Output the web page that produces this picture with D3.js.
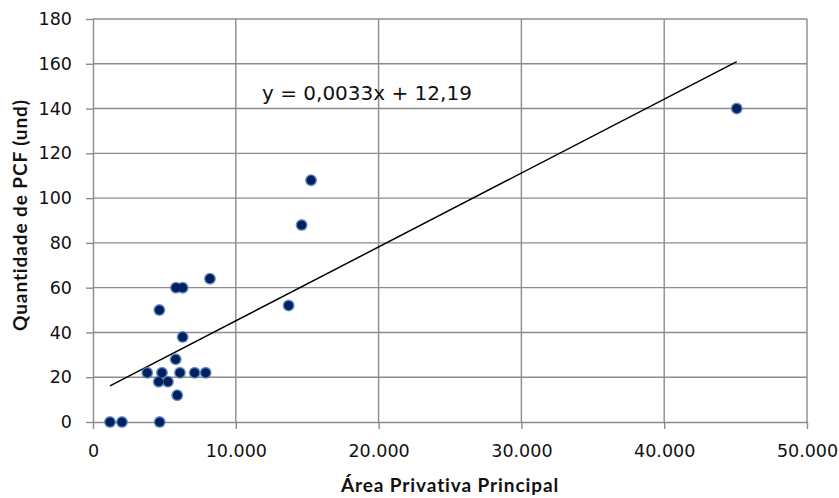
<!DOCTYPE html>
<html>
<head>
<meta charset="utf-8">
<script src="https://cdn.jsdelivr.net/npm/d3@7"></script>
<style>
  html, body { margin: 0; padding: 0; background: #fff; }
  svg { display: block; }
</style>
</head>
<body>
<svg id="chart" width="839" height="498"></svg>
<script>
// Área privativa principal (m²) vs. quantidade de PCF (und)
const areaValues = [1190, 2030, 4670, 5900, 4600, 5250, 3800, 4830, 6090, 7120, 7890,
                    5790, 6280, 4650, 5810, 6280, 8190, 13700, 14610, 15270, 45080];
const pcfValues  = [0, 0, 0, 12, 18, 18, 22, 22, 22, 22, 22,
                    28, 38, 50, 60, 60, 64, 52, 88, 108, 140];

// Linear trend line: y = slope * x + intercept
const trendSlope = 0.0033;
const trendIntercept = 12.19;
const trendLabel = "y = 0,0033x + 12,19";

const xTicks = [0, 10000, 20000, 30000, 40000, 50000];
const yTicks = [0, 20, 40, 60, 80, 100, 120, 140, 160, 180];
const xTitle = "Área Privativa Principal";
const yTitle = "Quantidade de PCF (und)";

const points = areaValues.map((x, i) => ({ x, y: pcfValues[i] }));

const svg = d3.select("#chart");
const plotLeft = 93, plotRight = 807, plotTop = 19, plotBottom = 422;

const x = d3.scaleLinear().domain([0, 50000]).range([plotLeft, plotRight]);
const y = d3.scaleLinear().domain([0, 180]).range([plotBottom, plotTop]);

const gridColor = "#8c8c8c";
const fmt = d3.format(",.0f");
const ptFmt = v => fmt(v).replace(/,/g, ".");

// Gridlines
const grid = svg.append("g");
grid.selectAll(".gx").data(xTicks.slice(1)).join("line")
  .attr("x1", d => x(d)).attr("x2", d => x(d))
  .attr("y1", plotTop).attr("y2", plotBottom)
  .attr("stroke", gridColor).attr("stroke-width", 1.4);
grid.selectAll(".gy").data(yTicks.slice(1)).join("line")
  .attr("x1", plotLeft).attr("x2", plotRight)
  .attr("y1", d => y(d)).attr("y2", d => y(d))
  .attr("stroke", gridColor).attr("stroke-width", 1.4);

// Axes
const xAxis = svg.append("g")
  .attr("transform", `translate(0,${plotBottom})`)
  .call(d3.axisBottom(x).tickValues(xTicks).tickFormat(ptFmt).tickSize(7).tickSizeOuter(0).tickPadding(16));
const yAxis = svg.append("g")
  .attr("transform", `translate(${plotLeft},0)`)
  .call(d3.axisLeft(y).tickValues(yTicks).tickSize(7).tickSizeOuter(0).tickPadding(14));

[xAxis, yAxis].forEach(a => {
  a.select(".domain").attr("stroke", gridColor).attr("stroke-width", 1.4);
  a.selectAll(".tick line").attr("stroke", gridColor).attr("stroke-width", 1.4);
  a.selectAll(".tick text")
    .attr("fill", "#111")
    .style("font-family", "'DejaVu Sans', sans-serif")
    .style("font-size", "17.5px");
});

// Trend line across the data range
const xExt = d3.extent(areaValues);
const trend = xExt.map(v => ({ x: v, y: trendSlope * v + trendIntercept }));
svg.append("path")
  .datum(trend)
  .attr("d", d3.line().x(d => x(d.x)).y(d => y(d.y)))
  .attr("stroke", "#000").attr("stroke-width", 1.5).attr("fill", "none");

// Data points: soft blue halo under a dark navy core
const defs = svg.append("defs");
defs.append("filter").attr("id", "soft")
  .attr("x", "-50%").attr("y", "-50%").attr("width", "200%").attr("height", "200%")
  .append("feGaussianBlur").attr("stdDeviation", 0.7);

svg.append("g").selectAll("circle").data(points).join("circle")
  .attr("cx", d => x(d.x)).attr("cy", d => y(d.y))
  .attr("r", 6)
  .attr("fill", "#4a78be").attr("opacity", 0.8)
  .attr("filter", "url(#soft)");
svg.append("g").selectAll("circle").data(points).join("circle")
  .attr("cx", d => x(d.x)).attr("cy", d => y(d.y))
  .attr("r", 4.6)
  .attr("fill", "#00205e");

// Trend equation
svg.append("text")
  .attr("x", 262).attr("y", 99.5)
  .attr("fill", "#111")
  .style("font-family", "'DejaVu Sans', sans-serif")
  .style("font-size", "20px")
  .text(trendLabel);

// Axis titles
svg.append("text")
  .attr("x", (plotLeft + plotRight) / 2).attr("y", 492)
  .attr("text-anchor", "middle")
  .attr("fill", "#111")
  .style("font-family", "Lato, sans-serif")
  .style("font-weight", "bold")
  .style("font-size", "19px")
  .style("letter-spacing", "0.9px")
  .text(xTitle);

svg.append("text")
  .attr("transform", "translate(27,215) rotate(-90)")
  .attr("text-anchor", "middle")
  .attr("fill", "#111")
  .style("font-family", "Lato, sans-serif")
  .style("font-weight", "bold")
  .style("font-size", "19px")
  .style("letter-spacing", "0.9px")
  .text(yTitle);
</script>
</body>
</html>
